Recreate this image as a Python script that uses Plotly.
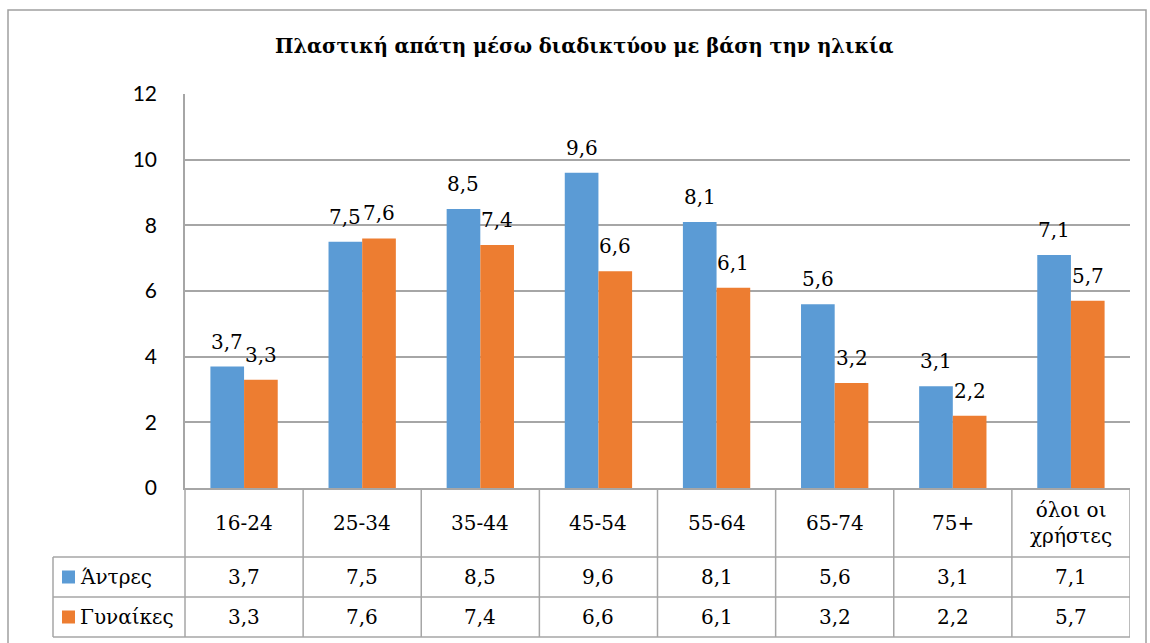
import plotly.graph_objects as go

# data
categories = ["16-24", "25-34", "35-44", "45-54", "55-64", "65-74", "75+", "όλοι οι χρήστες"]
header_labels = ["16-24", "25-34", "35-44", "45-54", "55-64", "65-74", "75+", "όλοι οι<br>χρήστες"]
men = [3.7, 7.5, 8.5, 9.6, 8.1, 5.6, 3.1, 7.1]
women = [3.3, 7.6, 7.4, 6.6, 6.1, 3.2, 2.2, 5.7]
series_names = ["Άντρες", "Γυναίκες"]
y_ticks = [0, 2, 4, 6, 8, 10, 12]

BLUE = "#5B9BD5"
ORANGE = "#ED7D31"
GRID = "#A6A6A6"
SERIF = "DejaVu Serif"
BARGAP = 0.43

W, H = 1150, 643
L, R, T, B = 185, 1130, 94, 488  # plot area in pixels


def px(x):
    # pixel -> paper x
    return (x - L) / (R - L)


def py(y):
    # pixel -> paper y
    return (B - y) / (B - T)


fig = go.Figure()
for name, vals, col in [(series_names[0], men, BLUE), (series_names[1], women, ORANGE)]:
    fig.add_trace(go.Bar(x=categories, y=vals, name=name,
                         marker=dict(color=col, line=dict(width=0))))

annotations = []
# value labels above bars (Excel puts them a bit higher than plotly's outside text)
bar_px = (R - L) / len(categories) * (1 - BARGAP) / 2
lfont = dict(family=SERIF, size=20, color="black")
for k, vals in enumerate([men, women]):
    shift = (k - 0.5) * bar_px
    for i, v in enumerate(vals):
        annotations.append(dict(x=categories[i], y=v, xref="x", yref="y",
                                text=f"{v:.1f}".replace(".", ","), showarrow=False,
                                font=lfont, xshift=shift, yanchor="bottom", yshift=11))

shapes = []
line = dict(color=GRID, width=1.5)
# outer chart frame
shapes.append(dict(type="rect", xref="paper", yref="paper", x0=px(8), x1=px(1146),
                   y0=py(10), y1=py(660), line=dict(color="#A0A0A0", width=1.5)))
# table horizontal lines
for yy in [557, 597, 637]:
    shapes.append(dict(type="line", xref="paper", yref="paper", x0=px(53), x1=px(R),
                       y0=py(yy), y1=py(yy), line=line))
# table vertical lines
shapes.append(dict(type="line", xref="paper", yref="paper", x0=px(53), x1=px(53),
                   y0=py(557), y1=py(637), line=line))
shapes.append(dict(type="line", xref="paper", yref="paper", x0=0, x1=0,
                   y0=0, y1=py(637), line=line))
for i in range(len(categories)):
    shapes.append(dict(type="line", xref="x", yref="paper", x0=i + 0.5, x1=i + 0.5,
                       y0=0, y1=py(637), line=line))
# legend keys in table
for row_y, col in [(577, BLUE), (617, ORANGE)]:
    shapes.append(dict(type="rect", xref="paper", yref="paper", x0=px(62), x1=px(75),
                       y0=py(row_y - 6.5), y1=py(row_y + 6.5), fillcolor=col, line=dict(width=0)))

tfont = dict(family=SERIF, size=20, color="black")
for i, lab in enumerate(header_labels):
    annotations.append(dict(x=categories[i], y=py(523), xref="x", yref="paper", text=lab,
                            showarrow=False, font=tfont, yanchor="middle"))
for row_y, vals in [(577, men), (617, women)]:
    for i, v in enumerate(vals):
        annotations.append(dict(x=categories[i], y=py(row_y), xref="x", yref="paper",
                                text=f"{v:.1f}".replace(".", ","), showarrow=False,
                                font=tfont, yanchor="middle"))
for row_y, name in [(577, series_names[0]), (617, series_names[1])]:
    annotations.append(dict(x=px(78), y=py(row_y), xref="paper", yref="paper", text=name,
                            showarrow=False, font=tfont, xanchor="left", yanchor="middle"))
# title
annotations.append(dict(x=px(584), y=py(47), xref="paper", yref="paper",
                        text="<b>Πλαστική απάτη μέσω διαδικτύου με βάση την ηλικία</b>",
                        showarrow=False, font=dict(family=SERIF, size=19.5, color="black"),
                        yanchor="middle"))

fig.update_layout(
    width=W, height=H, margin=dict(l=L, r=W - R, t=T, b=H - B),
    paper_bgcolor="white", plot_bgcolor="white",
    barmode="group", bargap=BARGAP, bargroupgap=0,
    showlegend=False, shapes=shapes, annotations=annotations,
    xaxis=dict(showticklabels=False, showgrid=False, showline=True, linecolor=GRID,
               linewidth=1.5, range=[-0.5, len(categories) - 0.5], fixedrange=True),
    yaxis=dict(range=[0, 12], tickvals=y_ticks, showgrid=True, gridcolor=GRID, gridwidth=1.5,
               showline=True, linecolor=GRID, linewidth=1.5, zeroline=False,
               tickfont=dict(family="Lato", size=21, color="black"),
               ticks="", ticklabelstandoff=22),
)

fig.write_html("out.html", config={"displayModeBar": False},
               post_script="document.body.style.margin='0';")
